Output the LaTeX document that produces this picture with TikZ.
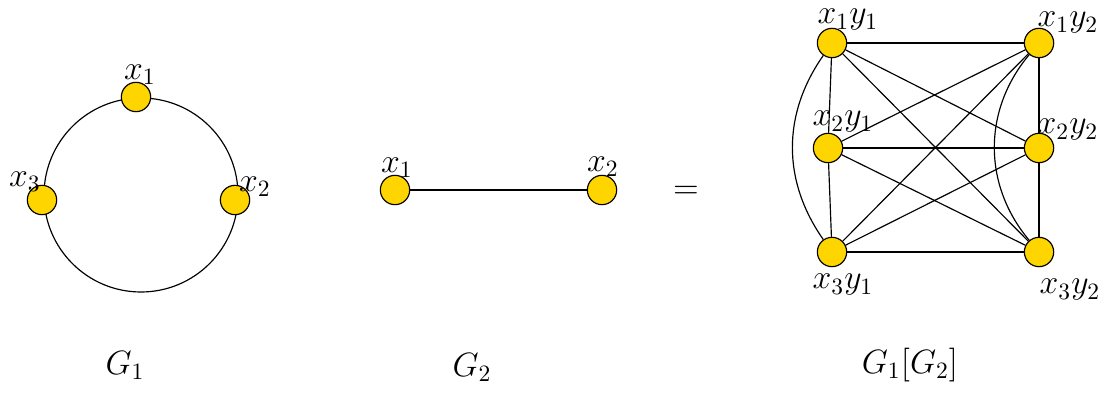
\documentclass[tikz,border=0pt]{standalone}
\usepackage{xcolor}
\usepackage{amsmath}
\usepackage{tikz}

\definecolor{vgold}{RGB}{255,213,0}
\tikzset{vert/.style={circle, draw=black, fill=vgold, minimum size=0.44cm, inner sep=0pt}}

\begin{document}
\begin{tikzpicture}[x=0.015cm, y=0.015cm, line width=0.5pt, every node/.style={font=\Large}]
    \useasboundingbox (0,0) rectangle (1111,392);
    % G1
    \coordinate (c1) at (141,197);
    \draw (c1) circle (97);
    \node[vert] (a1) at (136,295) {};
    \node[vert] (a2) at (235,192) {};
    \node[vert] (a3) at (42,192) {};
    \node (la1) at (140,317) {$x_1$};
    \node (la2) at (255,205) {$x_2$};
    \node (la3) at (25,210) {$x_3$};
    \node (g1) at (125,27) {$G_1$};
    % G2
    \node[vert] (b1) at (395,202) {};
    \node[vert] (b2) at (602,202) {};
    \draw (b1) -- (b2);
    \node (lb1) at (397,224) {$x_1$};
    \node (lb2) at (603,225) {$x_2$};
    \node (g2) at (472,25) {$G_2$};
    \node (eq) at (686,200) {$=$};
    % G1[G2]
    \node[vert] (n11) at (832,349) {};
    \node[vert] (n12) at (1039,349) {};
    \node[vert] (n21) at (828,244) {};
    \node[vert] (n22) at (1039,244) {};
    \node[vert] (n31) at (832,140) {};
    \node[vert] (n32) at (1039,140) {};
    \foreach \a/\b in {n11/n12,n21/n22,n31/n32,n11/n21,n21/n31,n12/n22,n22/n32,
        n11/n22,n11/n32,n21/n12,n21/n32,n31/n12,n31/n22}
        \draw (\a) -- (\b);
    \draw (n11) to[bend right=35] (n31);
    \draw (n12) to[bend right=40] (n32);
    \node (l11) at (848,372) {$x_1y_1$};
    \node (l12) at (1068,369) {$x_1y_2$};
    \node (l21) at (843,270) {$x_2y_1$};
    \node (l22) at (1068,262) {$x_2y_2$};
    \node (l31) at (843,107) {$x_3y_1$};
    \node (l32) at (1070,102) {$x_3y_2$};
    \node (g3) at (910,27) {$G_1[G_2]$};
\end{tikzpicture}
\end{document}
